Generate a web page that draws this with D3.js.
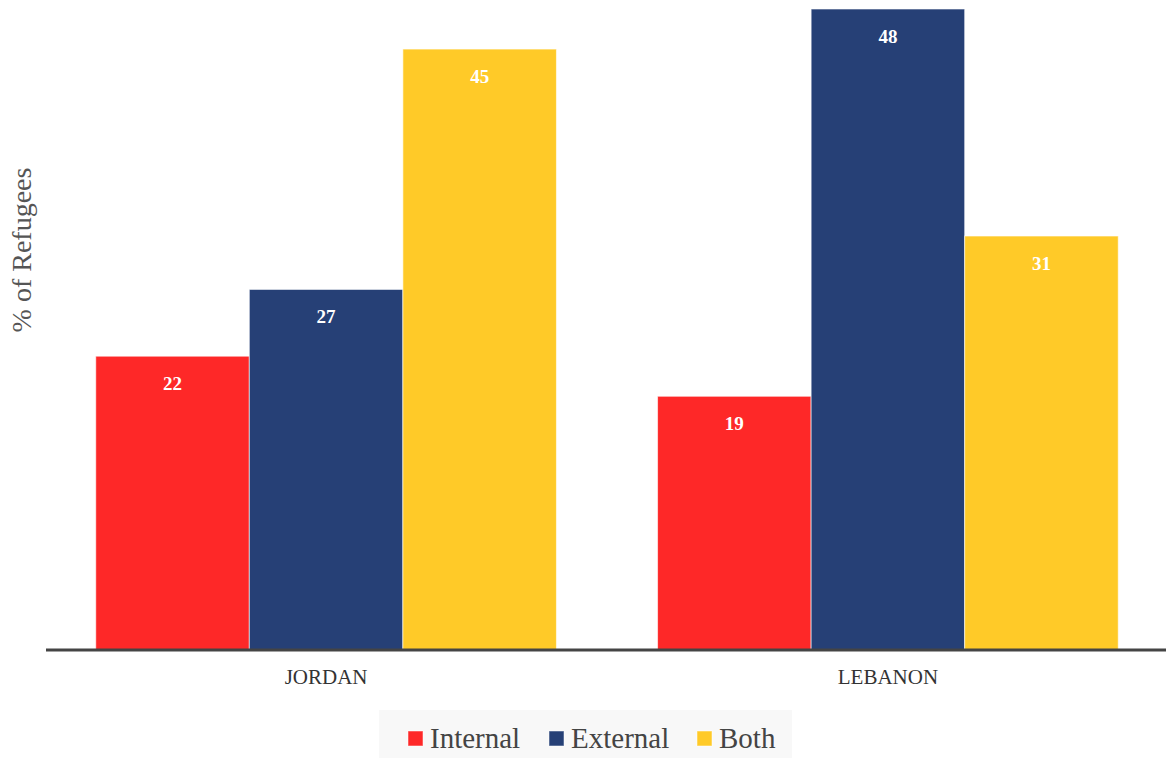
<!DOCTYPE html>
<html><head><meta charset="utf-8">
<script src="https://cdn.jsdelivr.net/npm/d3@7"></script>
<style>body{margin:0;background:#fff}svg{display:block}</style>
</head><body>
<script>
const countries = ["JORDAN", "LEBANON"];
const seriesNames = ["Internal", "External", "Both"];
const internalVals = [22, 19];
const externalVals = [27, 48];
const bothVals = [45, 31];
const colors = ["#FE2828", "#264076", "#FFCA28"];

const W = 1166, H = 758;
const font = "'Liberation Serif', 'DejaVu Serif', serif";
const svg = d3.select("body").append("svg").attr("width", W).attr("height", H);

const x0 = d3.scaleBand().domain(countries).range([48, 1166]).paddingInner(0.18).paddingOuter(0.085);
const x1 = d3.scaleBand().domain(seriesNames).range([0, x0.bandwidth()]).padding(0);
const y = d3.scaleLinear().domain([0, 48]).range([650, 9]);
const color = d3.scaleOrdinal().domain(seriesNames).range(colors);

const data = countries.map((c, i) => ({country: c, values: [
  {s: "Internal", v: internalVals[i]},
  {s: "External", v: externalVals[i]},
  {s: "Both", v: bothVals[i]}]}));

const g = svg.selectAll("g.grp").data(data).enter().append("g")
  .attr("transform", d => `translate(${x0(d.country)},0)`);
g.selectAll("rect").data(d => d.values).enter().append("rect")
  .attr("x", d => x1(d.s)).attr("y", d => y(d.v))
  .attr("width", x1.bandwidth()).attr("height", d => y(0) - y(d.v))
  .attr("fill", d => color(d.s))
  .attr("stroke", "rgba(255,255,255,0.6)").attr("stroke-width", 1);
g.selectAll("text").data(d => d.values).enter().append("text")
  .attr("x", d => x1(d.s) + x1.bandwidth() / 2).attr("y", d => y(d.v) + 34)
  .attr("text-anchor", "middle").attr("fill", "#fff")
  .attr("font-family", font).attr("font-weight", "bold").attr("font-size", 19)
  .text(d => d.v);

// x axis
const xAxis = svg.append("g").attr("transform", "translate(0,650)")
  .call(d3.axisBottom(x0).tickSize(0).tickPadding(19));
xAxis.select(".domain").attr("stroke", "#444").attr("stroke-width", 3).attr("d", "M46,0H1166");
xAxis.selectAll("text").attr("font-family", font).attr("font-size", 21).attr("fill", "#333");

// y label
svg.append("text").attr("transform", "translate(31,250) rotate(-90)")
  .attr("text-anchor", "middle").attr("font-family", font).attr("font-size", 28).attr("fill", "#555")
  .text("% of Refugees");

// legend
const leg = svg.append("g");
leg.append("rect").attr("x", 379).attr("y", 710).attr("width", 413).attr("height", 48).attr("fill", "#f8f8f8");
const legX = [408, 549, 697];
seriesNames.forEach((s, i) => {
  leg.append("rect").attr("x", legX[i]).attr("y", 731).attr("width", 15).attr("height", 15)
    .attr("fill", colors[i]).attr("stroke", "rgba(255,255,255,0.5)");
  leg.append("text").attr("x", legX[i] + 22).attr("y", 748)
    .attr("font-family", font).attr("font-size", 29).attr("fill", "#444").text(s);
});
</script>
</body></html>
